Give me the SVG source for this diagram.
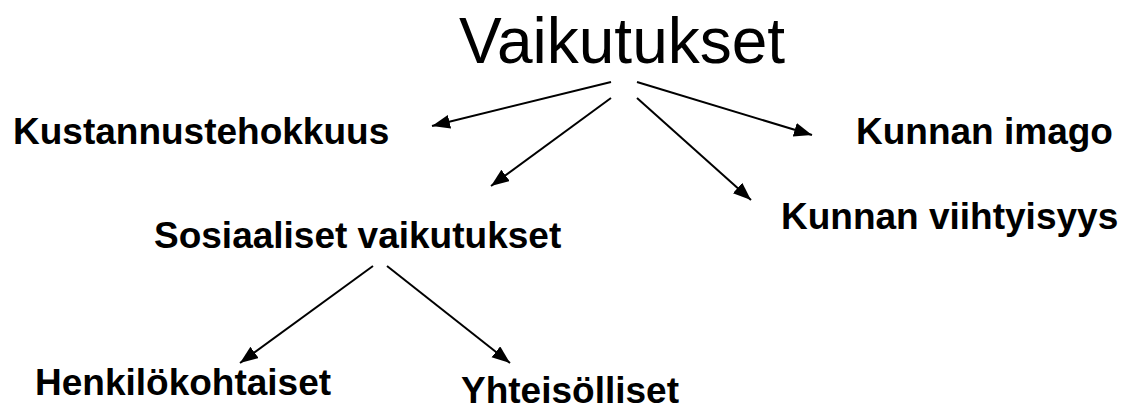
<svg xmlns="http://www.w3.org/2000/svg" width="1129" height="408" viewBox="0 0 1129 408">
<style>
.t{font-family:"Liberation Sans",Arial,sans-serif;fill:#000}
.b{font-weight:bold;font-size:37px}
.h{font-size:64px}
.c{stroke:#000;stroke-width:2;fill:none;marker-end:url(#ah)}
</style>
<defs>
<marker id="ah" markerUnits="userSpaceOnUse" markerWidth="20" markerHeight="16" refX="18" refY="7" orient="auto">
<path d="M0,0 L18,7 L0,14 z" fill="#000"/>
</marker>
</defs>
<rect width="1129" height="408" fill="#fff"/>
<g id="connectors">
<path class="c" d="M611,82 L432,126"/>
<path class="c" d="M611,98 L491,186"/>
<path class="c" d="M637,82 L812,135"/>
<path class="c" d="M637,98 L751,200"/>
<path class="c" d="M373,266 L240,363"/>
<path class="c" d="M387,266 L510,363"/>
</g>
<g id="vaikutukset"><text class="t h" x="459" y="63">Vaikutukset</text></g>
<g id="kustannustehokkuus"><text class="t b" x="13" y="144">Kustannustehokkuus</text></g>
<g id="kunnan-imago"><text class="t b" x="856" y="144">Kunnan imago</text></g>
<g id="sosiaaliset"><text class="t b" x="154" y="248">Sosiaaliset vaikutukset</text></g>
<g id="kunnan-viihtyisyys"><text class="t b" x="781" y="229">Kunnan viihtyisyys</text></g>
<g id="henkilokohtaiset"><text class="t b" x="35" y="395">Henkilökohtaiset</text></g>
<g id="yhteisolliset"><text class="t b" x="461" y="403">Yhteisölliset</text></g>
</svg>
